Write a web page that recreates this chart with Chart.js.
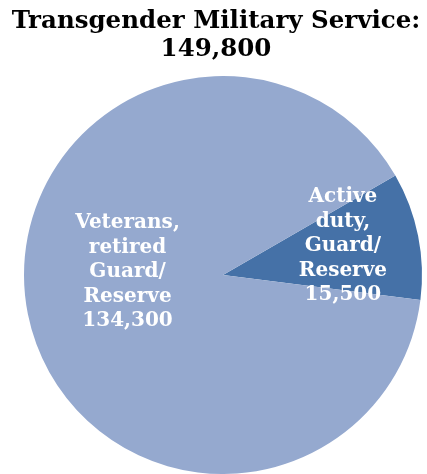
<!DOCTYPE html>
<html>
<head>
<meta charset="utf-8">
<script src="https://cdn.jsdelivr.net/npm/chart.js@4"></script>
<style>
  body { margin: 0; background: #fff; }
  #wrap { width: 427px; height: 474px; }
</style>
</head>
<body>
<div id="wrap"><canvas id="pie-chart"></canvas></div>
<script>
const categories = [
  ['Active', 'duty,', 'Guard/', 'Reserve'],
  ['Veterans,', 'retired', 'Guard/', 'Reserve'],
];
const values = [15500, 134300];
const valueLabels = ['15,500', '134,300'];
const colors = ['#4571a7', '#95a9cf'];
const titleLines = ['Transgender Military Service:', '149,800'];

// where each label sits inside its slice: fraction of radius, angle shift (rad)
const labelRadius = [0.62, 0.48];
const labelShift = [-0.04, 0.23];

// title drawn by hand so it can sit a little left of the pie centre
const chartTitle = {
  id: 'chartTitle',
  afterDraw(chart) {
    const { ctx } = chart;
    ctx.save();
    ctx.fillStyle = '#000';
    ctx.font = 'bold 24.5px "DejaVu Serif"';
    ctx.textAlign = 'center';
    ctx.textBaseline = 'middle';
    titleLines.forEach((t, k) => ctx.fillText(t, 216, 22 + k * 28));
    ctx.restore();
  },
};

const sliceLabels = {
  id: 'sliceLabels',
  afterDatasetsDraw(chart) {
    const { ctx } = chart;
    const arcs = chart.getDatasetMeta(0).data;
    ctx.save();
    ctx.fillStyle = '#fff';
    ctx.font = 'bold 20px "DejaVu Serif"';
    ctx.textAlign = 'center';
    ctx.textBaseline = 'middle';
    const lh = 24.5;
    arcs.forEach((arc, i) => {
      const p = arc.getProps(['x', 'y', 'startAngle', 'endAngle', 'outerRadius'], true);
      const mid = (p.startAngle + p.endAngle) / 2 + labelShift[i];
      const r = p.outerRadius * labelRadius[i];
      const cx = p.x + Math.cos(mid) * r;
      const cy = p.y + Math.sin(mid) * r;
      const lines = categories[i].concat([valueLabels[i]]);
      const top = cy - (lines.length - 1) * lh / 2;
      lines.forEach((t, k) => ctx.fillText(t, cx, top + k * lh));
    });
    ctx.restore();
  },
};

new Chart(document.getElementById('pie-chart'), {
  type: 'pie',
  data: {
    labels: categories.map((c) => c.join(' ')),
    datasets: [
      {
        data: values,
        backgroundColor: colors,
        borderWidth: 0,
      },
    ],
  },
  options: {
    responsive: true,
    maintainAspectRatio: false,
    animation: false,
    rotation: 60,
    layout: {
      padding: { left: 24, right: 5, top: 76, bottom: 0 },
    },
    plugins: {
      legend: { display: false },
      tooltip: { enabled: false },
      title: { display: false },
    },
  },
  plugins: [sliceLabels, chartTitle],
});
</script>
</body>
</html>
